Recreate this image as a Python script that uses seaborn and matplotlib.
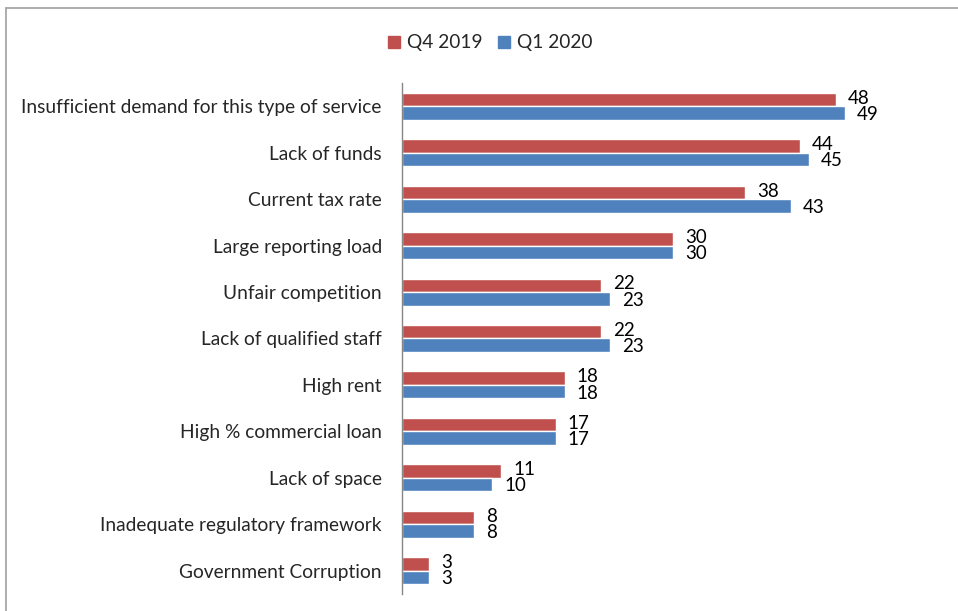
import matplotlib
matplotlib.use("Agg")
import matplotlib.pyplot as plt
import seaborn as sns
import pandas as pd
from matplotlib.lines import Line2D

categories = ["Insufficient demand for this type of service", "Lack of funds",
              "Current tax rate", "Large reporting load", "Unfair competition",
              "Lack of qualified staff", "High rent", "High % commercial loan",
              "Lack of space", "Inadequate regulatory framework",
              "Government Corruption"]
q4_2019 = [48, 44, 38, 30, 22, 22, 18, 17, 11, 8, 3]
q1_2020 = [49, 45, 43, 30, 23, 23, 18, 17, 10, 8, 3]
series = ["Q4 2019", "Q1 2020"]
colors = ["#C0504D", "#4F81BD"]

sns.set_style("white")
plt.rcParams['font.family'] = ['Lato', 'DejaVu Sans']

df = pd.DataFrame({
    "category": categories * 2,
    "value": q4_2019 + q1_2020,
    "series": [series[0]] * len(categories) + [series[1]] * len(categories),
})

fig = plt.figure(figsize=(9.58, 6.11), dpi=100)
ax = fig.add_axes([0.4196, 0.028, 0.519, 0.836])
sns.barplot(data=df, y="category", x="value", hue="series", orient="h",
            palette=colors, hue_order=series, order=categories,
            width=0.58, ax=ax, legend=False, saturation=1)

for i, cont in enumerate(ax.containers):
    dy = -0.03 if i == 0 else 0.03
    for bar in cont:
        w = bar.get_width()
        ax.text(w + 1.3, bar.get_y() + bar.get_height() / 2 + dy, f"{w:.0f}",
                va="center", ha="left", fontsize=13.5, color="#000000")

ax.set_xlim(0, 55)
ax.set_ylim(10.5, -0.5)
ax.set_xlabel("")
ax.set_ylabel("")
ax.set_xticks([])
ax.tick_params(axis="y", length=0, pad=14.5, labelsize=13.8)
for s in ["top", "right", "bottom"]:
    ax.spines[s].set_visible(False)
ax.spines["left"].set_color("#868686")
ax.spines["left"].set_linewidth(1)

handles = [Line2D([0], [0], marker="s", linestyle="", markersize=8,
                  markerfacecolor=c, markeredgecolor=c) for c in colors]
fig.legend(handles, series, loc="center", bbox_to_anchor=(0.511, 0.93), ncol=2,
           frameon=False, fontsize=13.8, handletextpad=0.3, columnspacing=0.7,
           handlelength=0.8)

# outer border (top and left visible)
fig.add_artist(Line2D([6/958, 6/958], [0, 1 - 8/611], transform=fig.transFigure,
                      color="#A0A0A0", lw=1.2))
fig.add_artist(Line2D([6/958, 1], [1 - 8/611, 1 - 8/611], transform=fig.transFigure,
                      color="#A0A0A0", lw=1.2))

fig.savefig("out.png", dpi=100, facecolor="white")
